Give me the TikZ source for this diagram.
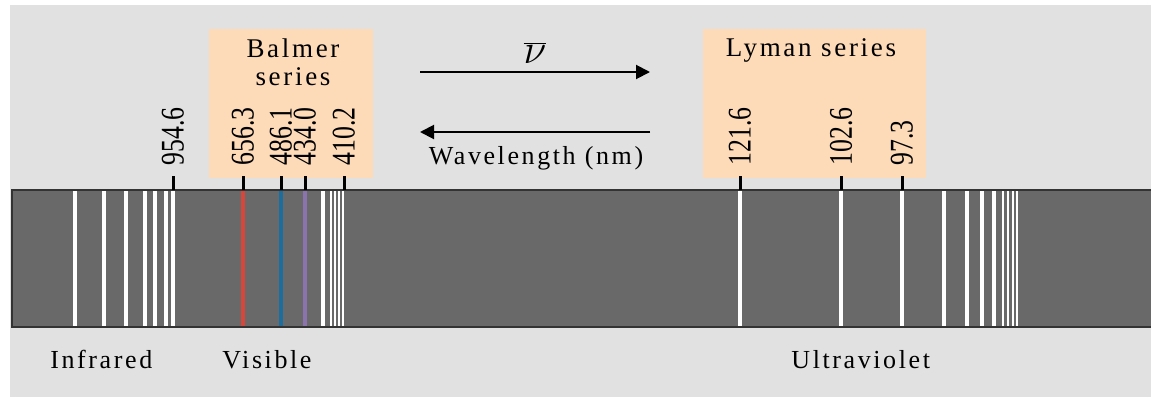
\documentclass[tikz,border=0pt]{standalone}
\usepackage{fontspec}
\setmainfont{Liberation Serif}
\newfontfamily\tracked[LetterSpace=10]{Liberation Serif}
\newfontfamily\narrow[FakeStretch=0.78]{Liberation Serif}
\usetikzlibrary{arrows.meta}

\definecolor{bg}{HTML}{E1E1E1}
\definecolor{barfill}{HTML}{696969}
\definecolor{peach}{HTML}{FDDBB8}
\definecolor{halpha}{HTML}{D8453A}
\definecolor{hbeta}{HTML}{1C6E9E}
\definecolor{hgamma}{HTML}{8B73AE}

\begin{document}
\begin{tikzpicture}[x=0.5pt, y=-0.5pt,
  word/.style={font=\tracked\fontsize{13}{14}\selectfont, inner sep=0pt, anchor=base west},
  head/.style={font=\tracked\fontsize{13.5}{14}\selectfont, inner sep=0pt, anchor=base},
  nm/.style={font=\narrow\fontsize{16.5}{18}\selectfont, rotate=90, anchor=west, inner sep=0pt},
  tick/.style={line width=1.5pt},
  emit/.style={line width=1.8pt},
  dense/.style={line width=1.1pt, white},
  arr/.style={-{Triangle[length=7pt, width=7pt]}, line width=1pt}]
\useasboundingbox (0,0) rectangle (1151,397);
\fill[bg] (10,5) rectangle (1151,397);

% panels behind the two series
\fill[peach] (209,29) rectangle (373,178);
\fill[peach] (703,29) rectangle (926,178);
\node[head] (balmer) at (293,57) {Balmer};
\node[head] (balmer2) at (293,85) {series};
\node[head] (lyman) at (811,56) {Lyman series};

% the strip with its emission lines
\draw[line width=1pt, draw=black!80, fill=barfill] (12,190) rectangle (1160,327);
\foreach \x in {75,104,126,145,155,166,173,323,740,841,902,944,967,982,994}
  \draw[emit, white] (\x,191) -- (\x,326);
% series limits, lines crowd together
\foreach \x in {331,335,339,343,1003,1008,1013,1017}
  \draw[dense] (\x,191) -- (\x,326);
\draw[emit, halpha] (243,191) -- (243,326);
\draw[emit, hbeta] (281,191) -- (281,326);
\draw[emit, hgamma] (305,191) -- (305,326);

% ticks and wavelengths
\foreach \x/\val/\id in {173/954.6/a, 243/656.3/b, 281/486.1/c, 305/434.0/d,
                         344/410.2/e, 740/121.6/f, 841/102.6/g, 902/97.3/h} {
  \coordinate (t\id) at (\x,190);
  \node[nm] (l\id) at (\x,166) {\val};
  \draw[tick] (t\id) -- ++(0,-14);
}

% direction arrows
\coordinate (nuL) at (420,72);
\coordinate (nuR) at (650,72);
\coordinate (wlL) at (420,132);
\coordinate (wlR) at (650,132);
\draw[arr] (nuL) -- (nuR);
\draw[arr] (wlR) -- (wlL);
\node[font=\fontsize{20}{22}\selectfont, anchor=south, inner sep=0pt] (nu) at (535,64) {$\overline{\nu}$};
\node[word, anchor=base] (wl) at (536,164) {Wavelength (nm)};

% regions
\node[word] (ir) at (50,368) {Infrared};
\node[word] (vis) at (222,368) {Visible};
\node[word] (uv) at (791,368) {Ultraviolet};
\end{tikzpicture}
\end{document}
